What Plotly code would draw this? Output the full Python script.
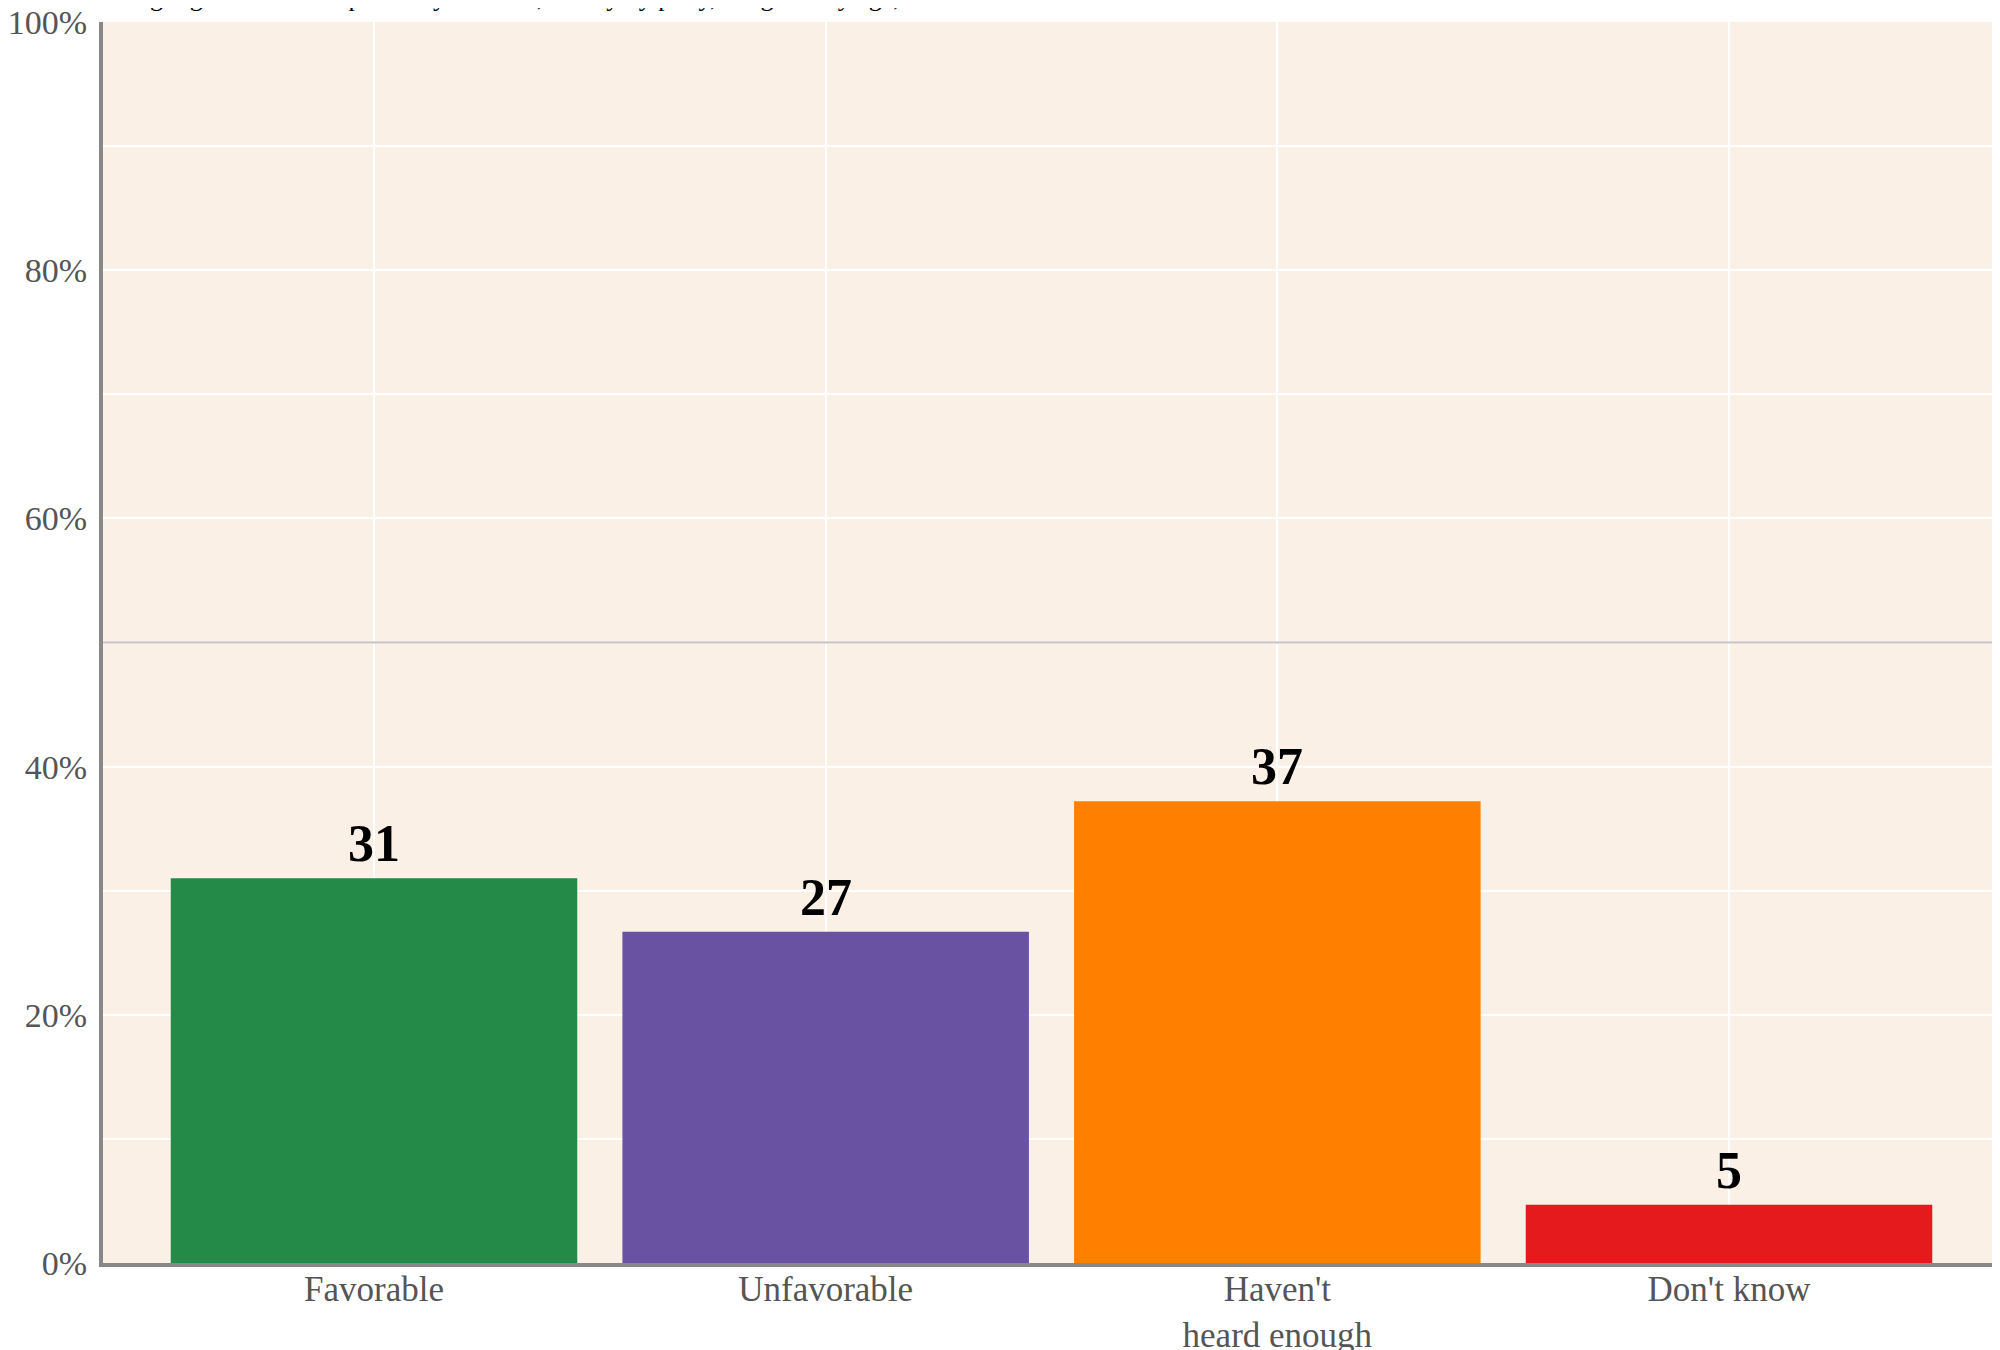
import plotly.graph_objects as go

categories = ["Favorable", "Unfavorable", "Haven't<br>heard enough", "Don't know"]
values = [31.0, 26.7, 37.2, 4.7]
labels = ["31", "27", "37", "5"]
colors = ["#248A47", "#6A52A3", "#FF7F00", "#E41A1C"]
ytick_vals = [0, 20, 40, 60, 80, 100]
ytick_text = ["0%", "20%", "40%", "60%", "80%", "100%"]
subtitle = "Among registered voters polled by YouGov, survey by party, weighted by age, 2024"

SERIF = "Liberation Serif, Times New Roman, serif"

fig = go.Figure()
fig.add_trace(go.Bar(
    x=categories, y=values, marker=dict(color=colors, line=dict(width=0)),
    width=0.9, hoverinfo="skip", showlegend=False,
))

annotations = []
for c, v, t in zip(categories, values, labels):
    annotations.append(dict(
        x=c, y=v, xref="x", yref="y", text="<b>%s</b>" % t, showarrow=False,
        yanchor="bottom", yshift=4,
        font=dict(family=SERIF, size=52, color="#000000"),
    ))
annotations.append(dict(
    x=0.0, xref="paper", y=1 + 8 / 1241, yref="paper", xanchor="left", yanchor="bottom",
    text=subtitle, showarrow=False, xshift=-20,
    font=dict(family=SERIF, size=26, color="#000000"),
))

fig.update_layout(
    width=2000, height=1350,
    margin=dict(l=95, r=8, t=14, b=95, pad=0, autoexpand=False),
    paper_bgcolor="#FFFFFF", plot_bgcolor="#FAF0E6",
    bargap=0.1,
    annotations=annotations,
    shapes=[dict(type="line", xref="paper", x0=0, x1=1, yref="y", y0=50, y1=50,
                 line=dict(color="#C4C4C4", width=2), layer="above")],
    font=dict(family=SERIF),
)
fig.update_xaxes(
    range=[-0.6, 3.6], showgrid=True, gridcolor="#FFFFFF", gridwidth=2,
    showline=True, linecolor="#888888", linewidth=4, ticks="",
    tickfont=dict(family=SERIF, size=35, color="#555555"),
    ticklabelstandoff=-8, fixedrange=True, automargin=False,
    ticklabeloverflow="allow",
)
fig.update_yaxes(
    range=[0, 100], tickvals=ytick_vals, ticktext=ytick_text,
    showgrid=True, gridcolor="#FFFFFF", gridwidth=2,
    minor=dict(tickvals=[10, 30, 50, 70, 90], showgrid=True, gridcolor="#FFFFFF", gridwidth=1.5),
    zeroline=False, showline=True, linecolor="#888888", linewidth=4, ticks="",
    tickfont=dict(family=SERIF, size=34, color="#555555"),
    ticklabelstandoff=5, fixedrange=True, automargin=False,
    ticklabeloverflow="allow",
)

fig.write_html("out.html")
